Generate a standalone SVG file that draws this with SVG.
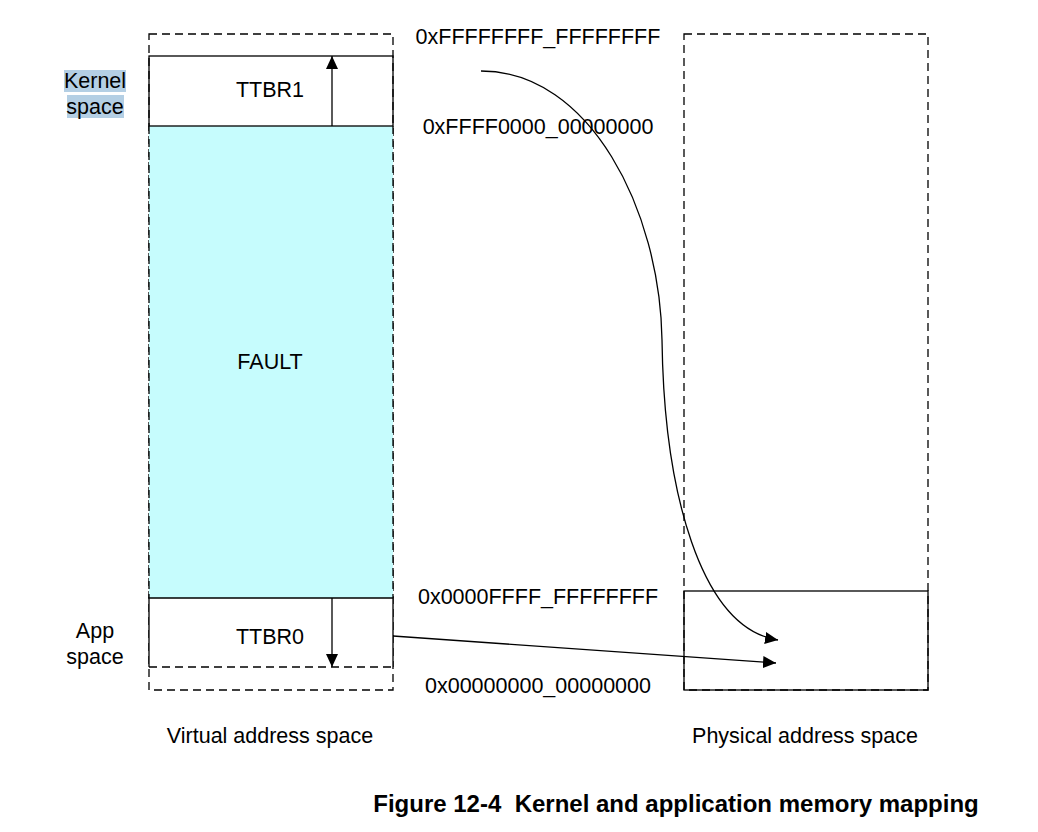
<svg xmlns="http://www.w3.org/2000/svg" width="1038" height="832" viewBox="0 0 1038 832">
<defs>
<style>
text{font-family:"Liberation Sans",Arial,sans-serif;font-size:21.5px;fill:#000}
.c{text-anchor:middle}
.d{fill:none;stroke:#000;stroke-width:1.3;stroke-dasharray:8,5}
.s{fill:none;stroke:#000;stroke-width:1.3}
.t{font-weight:bold;font-size:24px;white-space:pre}
</style>
<marker id="ah" viewBox="0 0 13 12" refX="13" refY="6" markerWidth="13" markerHeight="12" markerUnits="userSpaceOnUse" orient="auto">
<path d="M0,0 L13,6 L0,12 z" fill="#000"/>
</marker>
</defs>
<rect width="1038" height="832" fill="#fff"/>
<g id="virtual-space">
<rect x="149" y="34" width="244" height="656" class="d"/>
</g>
<g id="fault">
<rect x="149" y="126" width="244" height="472" fill="#c6fcfd"/>
<line x1="149" y1="126" x2="149" y2="598" class="d"/>
<line x1="393" y1="126" x2="393" y2="598" class="d"/>
<text x="270" y="369" class="c">FAULT</text>
</g>
<g id="ttbr1">
<rect x="149" y="56" width="244" height="70" fill="#fff" class="s"/>
<text x="270" y="97" class="c">TTBR1</text>
</g>
<g id="ttbr0">
<rect x="149" y="598" width="244" height="69" fill="#fff"/>
<path d="M149,667 V598 H393 V667" class="s"/>
<line x1="149" y1="667" x2="393" y2="667" class="d"/>
<text x="270" y="644" class="c">TTBR0</text>
</g>
<g id="physical-space">
<rect x="684" y="34" width="244" height="656" class="d"/>
<rect x="684" y="591" width="244" height="99" fill="#fff" class="s"/>
</g>
<g id="labels">
<rect x="64" y="70" width="62" height="22" fill="#b4cfe4"/>
<rect x="67" y="95" width="57" height="23" fill="#b4cfe4"/>
<text x="95" y="88" class="c">Kernel</text>
<text x="95" y="114" class="c">space</text>
<text x="95" y="638" class="c">App</text>
<text x="95" y="664" class="c">space</text>
<text x="538" y="44" class="c">0xFFFFFFFF_FFFFFFFF</text>
<text x="538" y="134" class="c">0xFFFF0000_00000000</text>
<text x="538" y="604" class="c">0x0000FFFF_FFFFFFFF</text>
<text x="538" y="693" class="c">0x00000000_00000000</text>
<text x="270" y="743" class="c">Virtual address space</text>
<text x="805" y="743" class="c">Physical address space</text>
<text x="676" y="812" class="c t" xml:space="preserve">Figure 12-4  Kernel and application memory mapping</text>
</g>
<g id="connectors">
<line x1="332" y1="126" x2="332" y2="56" class="s" marker-end="url(#ah)"/>
<line x1="332" y1="598" x2="332" y2="667" class="s" marker-end="url(#ah)"/>
<path d="M481,71 C590,71 660,210 662,340 C664,490 700,628 778,640" class="s" marker-end="url(#ah)"/>
<line x1="393" y1="636" x2="776" y2="663" class="s" marker-end="url(#ah)"/>
</g>
</svg>
